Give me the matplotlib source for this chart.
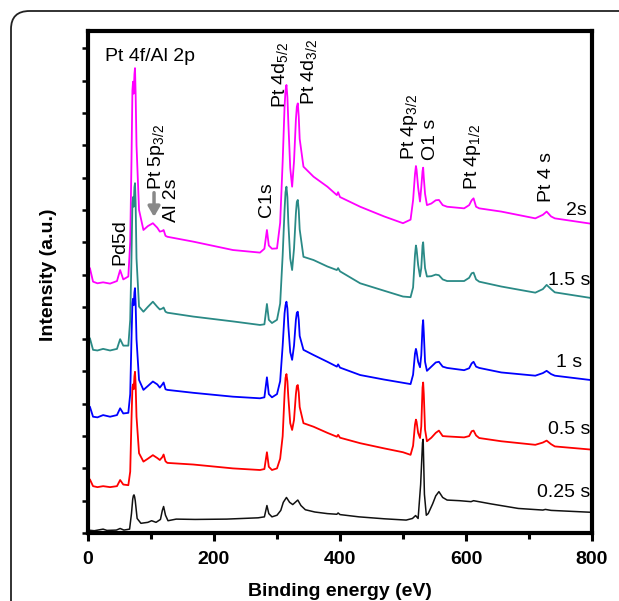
import matplotlib
matplotlib.use("Agg")
import matplotlib.pyplot as plt
from matplotlib.patches import FancyBboxPatch
import numpy as np

plt.rcParams['font.family'] = ['Liberation Sans', 'DejaVu Sans']
plt.rcParams['mathtext.fontset'] = 'custom'
plt.rcParams['mathtext.rm'] = 'Liberation Sans'
plt.rcParams['mathtext.it'] = 'Liberation Sans'

# ---- data (binding energy eV, intensity a.u. with vertical offset) ----
e_025 = [0, 10, 24, 30, 45, 51, 57, 66, 69, 71, 72, 73, 74, 75, 78, 84, 95, 101, 108, 115, 118, 120, 123, 127, 140, 170, 220, 270, 280, 284, 287, 292, 300, 306, 310, 315, 320, 325, 329, 333, 338, 345, 360, 380, 395, 397, 400, 430, 470, 505, 515, 520, 524, 528, 531, 532, 534, 537, 540, 547, 552, 557, 563, 570, 590, 608, 612, 640, 683, 722, 726, 735, 800]
i_025 = [0.09, 0.07, 0.12, 0.08, 0.09, 0.14, 0.09, 0.12, 0.6, 1.05, 1.15, 1.18, 1.12, 1.0, 0.45, 0.3, 0.33, 0.38, 0.33, 0.42, 0.7, 0.82, 0.55, 0.38, 0.43, 0.42, 0.43, 0.47, 0.5, 0.85, 0.6, 0.5, 0.55, 0.7, 0.95, 1.1, 0.95, 0.88, 0.95, 1.02, 0.85, 0.72, 0.65, 0.6, 0.58, 0.62, 0.57, 0.5, 0.44, 0.4, 0.45, 0.54, 0.45, 1.5, 2.8, 2.9, 1.2, 0.55, 0.6, 0.9, 1.15, 1.28, 1.1, 1.02, 1.0, 0.97, 1.0, 0.9, 0.76, 0.71, 0.73, 0.7, 0.64]

e_common = [0, 3, 8, 15, 24, 35, 46, 51, 56, 64,
            67, 69, 70.5, 71.5, 72.5, 73.7, 74.6, 75.6, 77, 81,
            88, 95, 103, 110, 114, 118, 120, 123, 126, 167,
            230, 273, 280, 284, 287, 292, 300, 305, 309, 312,
            313.5, 315, 316.5, 318, 321, 324, 327, 330, 331.5, 333,
            334.5, 336, 342, 358, 380, 395, 397, 400, 432, 470,
            500, 512, 516, 519, 520.5, 521.5, 524, 527, 529, 531,
            532, 533, 535, 538, 545, 552, 557, 563, 570, 597,
            605, 609, 612, 616, 621, 656, 710, 722, 728, 735,
            741, 800]
i_05 = [1.58, 1.66, 1.45, 1.42, 1.45, 1.42, 1.45, 1.64, 1.5, 1.48,
        1.9, 3.5, 4.5, 4.6, 4.45, 4.85, 4.99, 4.6, 3.6, 2.47,
        2.21, 2.3, 2.41, 2.32, 2.26, 2.35, 2.43, 2.22, 2.17, 2.12,
        2.0, 1.95, 1.98, 2.5, 2.05, 1.95, 2.0, 2.3, 3.0, 4.3,
        4.8, 4.92, 4.7, 4.2, 3.4, 3.19, 3.5, 4.3, 4.55, 4.58,
        4.35, 3.9, 3.4, 3.29, 3.1, 2.98, 3.04, 2.95, 2.78, 2.62,
        2.5, 2.42, 2.7, 3.35, 3.51, 3.45, 3.1, 2.94, 3.3, 4.5,
        4.66, 4.3, 3.2, 2.84, 2.95, 3.1, 3.17, 3.0, 2.99, 2.96,
        3.0, 3.15, 3.17, 3.02, 2.94, 2.84, 2.73, 2.8, 2.86, 2.75,
        2.68, 2.58]
i_1 = [3.8, 3.91, 3.6, 3.58, 3.65, 3.6, 3.65, 3.86, 3.7, 3.72,
       4.3, 6.0, 7.1, 7.25, 7.05, 7.45, 7.58, 7.1, 6.0, 4.74,
       4.43, 4.55, 4.69, 4.6, 4.5, 4.6, 4.66, 4.45, 4.43, 4.34,
       4.22, 4.17, 4.2, 4.82, 4.3, 4.2, 4.3, 4.7, 5.8, 6.8,
       7.05, 7.16, 6.95, 6.4, 5.6, 5.36, 5.8, 6.6, 6.82, 6.85,
       6.6, 6.1, 5.67, 5.51, 5.3, 5.15, 5.22, 5.12, 4.89, 4.75,
       4.65, 4.61, 4.9, 5.55, 5.7, 5.62, 5.3, 5.13, 5.5, 6.4,
       6.59, 6.2, 5.3, 5.02, 5.15, 5.28, 5.3, 5.15, 5.11, 5.04,
       5.1, 5.25, 5.3, 5.15, 5.11, 4.97, 4.87, 4.95, 5.02, 4.92,
       4.87, 4.73]
i_15 = [5.9, 6.03, 5.67, 5.65, 5.7, 5.65, 5.7, 6.0, 5.8, 5.8,
        6.6, 8.5, 10.2, 10.4, 10.1, 10.7, 10.83, 10.2, 8.5, 7.01,
        6.85, 7.0, 7.16, 7.0, 6.92, 6.95, 6.98, 6.85, 6.82, 6.7,
        6.55, 6.44, 6.46, 7.09, 6.6, 6.5, 6.6, 7.1, 8.6, 10.0,
        10.55, 10.72, 10.4, 9.6, 8.5, 8.14, 8.8, 9.9, 10.25, 10.31,
        10.0, 9.4, 8.55, 8.45, 8.25, 8.14, 8.2, 8.1, 7.73, 7.5,
        7.32, 7.3, 7.6, 8.6, 8.9, 8.8, 8.3, 7.94, 8.2, 8.9,
        9.0, 8.7, 8.2, 7.94, 7.95, 8.0, 7.98, 7.85, 7.8, 7.8,
        7.9, 8.04, 8.06, 7.85, 7.78, 7.63, 7.44, 7.55, 7.68, 7.55,
        7.45, 7.27]
i_2 = [8.0, 8.2, 7.78, 7.73, 7.76, 7.72, 7.8, 8.14, 7.85, 7.94,
       9.0, 11.5, 13.7, 13.97, 13.6, 14.2, 14.39, 13.6, 12.0, 10.0,
       9.38, 9.5, 9.59, 9.45, 9.33, 9.35, 9.38, 9.2, 9.17, 9.02,
       8.76, 8.68, 8.8, 9.38, 8.9, 8.8, 8.81, 9.6, 11.5, 13.2,
       13.7, 13.87, 13.5, 12.7, 11.3, 10.72, 11.5, 12.8, 13.2, 13.3,
       12.9, 12.2, 11.34, 11.03, 10.72, 10.46, 10.55, 10.4, 10.1, 9.8,
       9.59, 9.7, 10.3, 11.1, 11.36, 11.25, 10.7, 10.26, 10.7, 11.2,
       11.31, 11.0, 10.5, 10.15, 10.2, 10.3, 10.31, 10.15, 10.1, 10.05,
       10.15, 10.3, 10.36, 10.1, 10.05, 9.95, 9.74, 9.85, 9.95, 9.8,
       9.74, 9.57]

series_labels = ['0.25 s', '0.5 s', '1 s', '1.5 s', '2s']
colors = ['#111111', '#ff0000', '#0000ff', '#2a8a86', '#ff00ff']

fig = plt.figure(figsize=(6.19, 6.01), dpi=100)
frame = FancyBboxPatch((11/619, -0.05), 1.2, 1 - 11/601 + 0.05,
                       boxstyle="round,pad=0,rounding_size=0.03",
                       transform=fig.transFigure, fill=False, lw=1.3, ec='#222222')
fig.patches.append(frame)

ax = fig.add_axes([88/619, 68/601, 504/619, 502/601])

ax.plot(e_common, i_2, color=colors[4], lw=1.3)
ax.plot(e_common, i_15, color=colors[3], lw=1.3)
ax.plot(e_common, i_1, color=colors[2], lw=1.3)
ax.plot(e_common, i_05, color=colors[1], lw=1.3)
ax.plot(e_025, i_025, color=colors[0], lw=1.1)

ax.set_xlim(0, 800)
ax.set_ylim(0, 15.54)
ax.set_xticks([0, 200, 400, 600, 800])
ax.set_xticks([100, 300, 500, 700], minor=True)
ax.set_yticks(np.arange(0, 15, 2))
ax.set_yticks(np.arange(1, 16, 2), minor=True)
ax.set_yticklabels([])
for s in ax.spines.values():
    s.set_linewidth(3)
ax.tick_params(which='major', direction='out', length=6, width=2.2, labelsize=14, pad=7)
ax.tick_params(which='minor', direction='out', length=4, width=2.2)
ax.tick_params(axis='y', which='both', length=4, width=1.8)
for lab in ax.get_xticklabels():
    lab.set_fontweight('bold')
ax.set_xlabel('Binding energy (eV)', fontsize=14, fontweight='bold', labelpad=11)
ax.set_ylabel('Intensity (a.u.)', fontsize=14, fontweight='bold', va='center')
ax.yaxis.set_label_coords(-0.079, 0.514)

fs = 14
ax.text(27, 14.74, 'Pt 4f/Al 2p', fontsize=fs, ha='left', va='center')
rot_labels = [
    (50, 8.30, 'Pd5d'),
    (108.7, 10.62, r'Pt 5p$_{3/2}$'),
    (132.5, 9.63, 'Al 2s'),
    (284, 9.78, 'C1s'),
    (305, 13.16, r'Pt 4d$_{5/2}$'),
    (350.8, 13.25, r'Pt 4d$_{3/2}$'),
    (511, 11.55, r'Pt 4p$_{3/2}$'),
    (543, 11.55, 'O1 s'),
    (611, 10.62, r'Pt 4p$_{1/2}$'),
    (727, 10.25, 'Pt 4 s'),
]
for x, y, t in rot_labels:
    ax.text(x, y, t, fontsize=fs, rotation=90, ha='center', va='bottom')

ax.annotate('', xy=(104.8, 9.7), xytext=(104.8, 10.62),
            arrowprops=dict(arrowstyle='-|>,head_width=0.35,head_length=0.6', color='#888888', lw=2.5))

end_labels = [(792, 9.97, '2s'), (797, 7.83, '1.5 s'), (784, 5.29, '1 s'), (797, 3.19, '0.5 s'), (797, 1.24, '0.25 s')]
for x, y, t in end_labels:
    ax.text(x, y, t, fontsize=fs, ha='right', va='center')

fig.savefig('out.png', dpi=100)
